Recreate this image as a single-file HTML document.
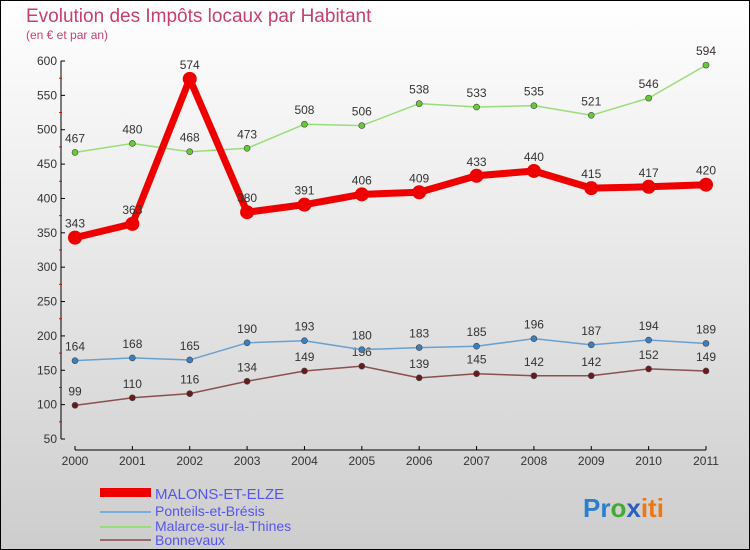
<!DOCTYPE html>
<html><head><meta charset="utf-8"><style>
body{margin:0;width:750px;height:550px;overflow:hidden}
svg{display:block;font-family:"Liberation Sans",sans-serif}
</style></head><body>
<svg id="c" width="750" height="550">
<defs><linearGradient id="bg" x1="0" y1="0" x2="0" y2="1"><stop offset="0" stop-color="#ffffff"/><stop offset="1" stop-color="#cdcdcd"/></linearGradient></defs>
<rect x="0.5" y="0.5" width="749" height="549" fill="url(#bg)" stroke="#000"/>
<text x="26" y="22" font-size="19" fill="#c8406a">Evolution des Impôts locaux par Habitant</text>
<text x="26" y="39" font-size="12" fill="#c8406a">(en € et par an)</text>
<g id="axes"></g><g id="series"></g>
<g>
<rect x="100" y="488" width="51" height="9" fill="#e00"/>
<text x="155" y="499" font-size="15" fill="#5555ee">MALONS-ET-ELZE</text>
<line x1="100" y1="512" x2="151" y2="512" stroke="#7aaedc" stroke-width="2"/>
<text x="155" y="516" font-size="14" fill="#5555ee">Ponteils-et-Brésis</text>
<line x1="100" y1="527" x2="151" y2="527" stroke="#99dd77" stroke-width="2"/>
<text x="155" y="531" font-size="14" fill="#5555ee">Malarce-sur-la-Thines</text>
<line x1="100" y1="540" x2="151" y2="540" stroke="#9a6a6a" stroke-width="2"/>
<text x="155" y="545" font-size="14" fill="#5555ee">Bonnevaux</text>
</g>
<text x="583" y="517" font-size="26" font-weight="bold"><tspan fill="#2a7fd0">Pr</tspan><tspan fill="#44aa33">o</tspan><tspan fill="#2a5fc0">x</tspan><tspan fill="#ee7711">iti</tspan></text>
</svg>
<script>
const years=["2000","2001","2002","2003","2004","2005","2006","2007","2008","2009","2010","2011"];
const yTicks=[50,100,150,200,250,300,350,400,450,500,550,600];
const malons=[343,363,574,380,391,406,409,433,440,415,417,420];
const ponteils=[164,168,165,190,193,180,183,185,196,187,194,189];
const malarce=[467,480,468,473,508,506,538,533,535,521,546,594];
const bonnevaux=[99,110,116,134,149,156,139,145,142,142,152,149];
const NS="http://www.w3.org/2000/svg";
const xS=i=>75+i*(706-75)/(years.length-1);
const yS=v=>439-(v-50)*(439-61)/550;
function mk(p,t,a){const e=document.createElementNS(NS,t);for(const k in a)e.setAttribute(k,a[k]);p.appendChild(e);return e;}
const ax=document.getElementById('axes');
let yl=mk(ax,'line',{x1:61,y1:yS(600),x2:61,y2:yS(50),stroke:'#000'});


yTicks.forEach(v=>{
 mk(ax,'line',{x1:61,y1:yS(v),x2:65,y2:yS(v),stroke:'#000'});
 if(v<600){mk(ax,'line',{x1:59,y1:yS(v+25),x2:62,y2:yS(v+25),stroke:'#e00'});}
 const t=mk(ax,'text',{x:57,y:yS(v)+4,'font-size':12,fill:'#333','text-anchor':'end'});t.textContent=v;
 
 
});
let xl=mk(ax,'line',{x1:xS(0),y1:450,x2:xS(11),y2:450,stroke:'#000'});


years.forEach((y,i)=>{
 mk(ax,'line',{x1:xS(i),y1:446,x2:xS(i),y2:450,stroke:'#000'});
 const t=mk(ax,'text',{x:xS(i),y:465,'font-size':12,fill:'#333','text-anchor':'middle'});t.textContent=y;
 
 
});
const sg=document.getElementById('series');
function series(vals,color,dot,w,r,name){
 const g=mk(sg,'g',{});
 
 
 mk(g,'polyline',{points:vals.map((v,i)=>xS(i)+','+yS(v)).join(' '),fill:'none',stroke:color,'stroke-width':w,'stroke-linejoin':'round'});
 vals.forEach((v,i)=>{
  const c=mk(g,'circle',{cx:xS(i),cy:yS(v),r:r,fill:dot,stroke:'#444','stroke-width':r>4?0:0.6});
  
  
  const t=mk(g,'text',{x:xS(i),y:yS(v)-10,'font-size':12,fill:'#333','text-anchor':'middle'});t.textContent=v;
  
  
 });
}
series(bonnevaux,'#8a5050','#6a1a1a',1.5,3,'series-bonnevaux');
series(ponteils,'#6aa0d0','#3a80c0',1.5,3,'series-ponteils');
series(malarce,'#99dd77','#66cc33',1.5,3,'series-malarce');
series(malons,'#ee0000','#ee0000',7,7,'series-malons');
</script>
</body></html>
